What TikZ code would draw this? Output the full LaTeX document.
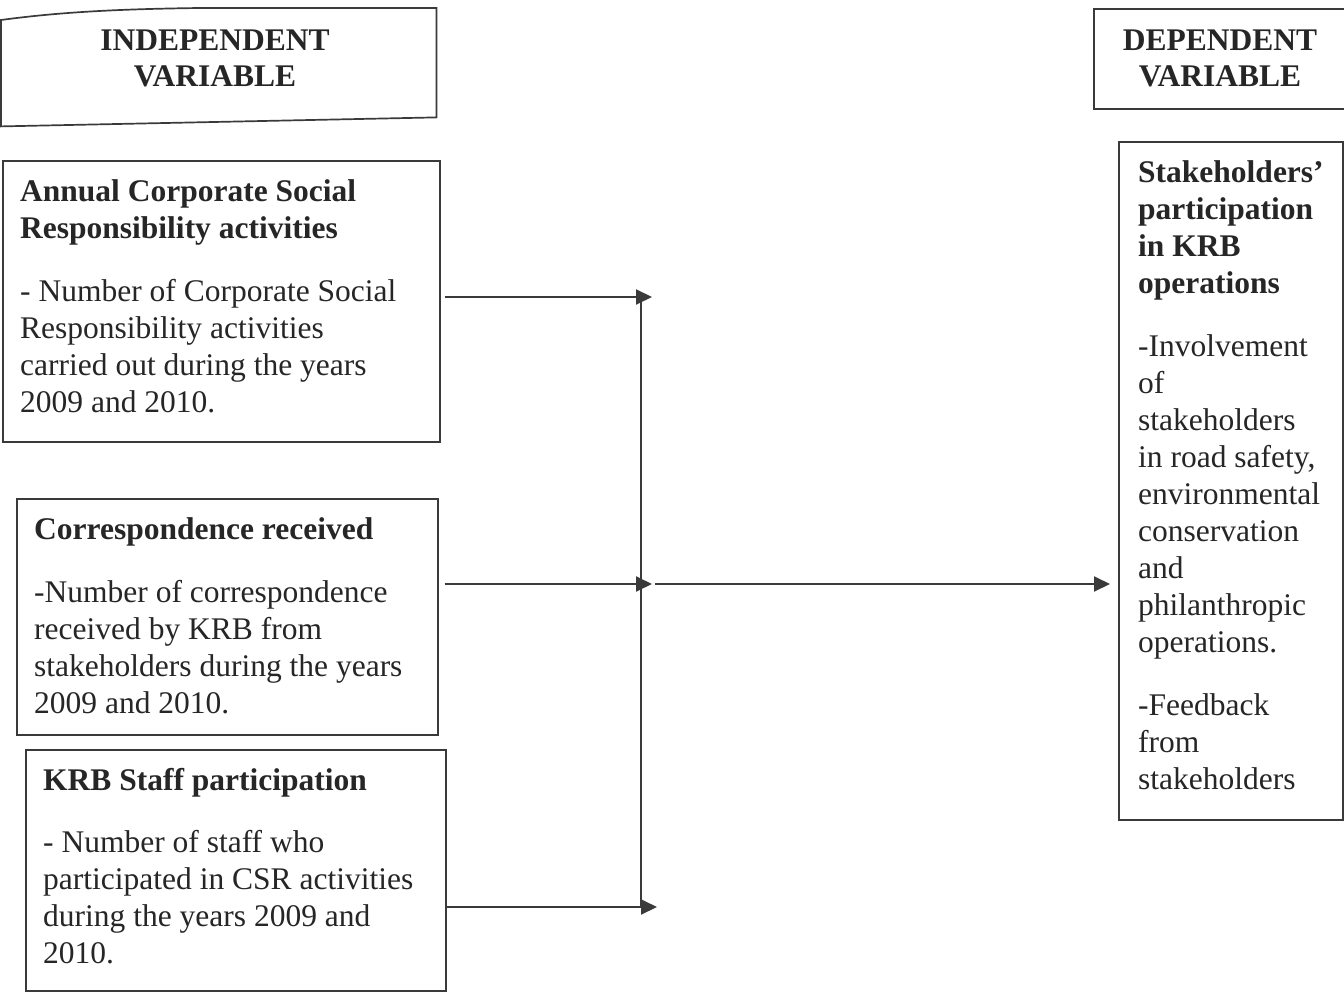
\documentclass[tikz,border=0pt]{standalone}
\usepackage{fontspec}
\setmainfont{Liberation Serif}
\usetikzlibrary{arrows.meta}
\definecolor{linec}{HTML}{3A3A3A}
\definecolor{textc}{HTML}{262626}
\begin{document}
\begin{tikzpicture}[x=1pt,y=-1pt,
 box/.style={draw=linec, line width=1.7pt, rectangle, inner sep=0pt, anchor=north west},
 txt/.style={anchor=north west, align=left, inner sep=0pt, font=\fontsize{31.5}{37}\selectfont, text=textc},
 hdr/.style={anchor=north, align=center, inner sep=0pt, font=\fontsize{31.5}{36}\selectfont\bfseries, text=textc},
 conn/.style={draw=linec, line width=1.9pt},
 arr/.style={conn, -{Triangle[length=16pt,width=15pt]}}]
\useasboundingbox (0,0) rectangle (1344,995);
\clip (0,0) rectangle (1344,995);
\fill[white] (0,0) rectangle (1344,995);

% headers
\node[inner sep=0pt, anchor=north west, minimum width=435pt, minimum height=112pt] (hIV) at (1,8) {};
\draw[draw=linec, line width=1.7pt] (hIV.north west) ++(0,12) .. controls (60,12) and (120,9) .. (200,8) -- (hIV.north east) -- ([yshift=3pt]hIV.south east) -- ([yshift=-6pt]hIV.south west) -- cycle;
\node[hdr] (hIVt) at (215,25) {\strut INDEPENDENT\\VARIABLE};
\node[box, minimum width=270pt, minimum height=100pt] (hDV) at (1093,8) {};
\node[hdr] (hDVt) at (1220,25) {\strut DEPENDENT\\VARIABLE};

% independent boxes
\node[box, minimum width=437pt, minimum height=281pt] (b1) at (2,160) {};
\node[txt] (t1) at (20,175) {\strut\textbf{Annual Corporate Social}\\\textbf{Responsibility activities}\\[26pt]- Number of Corporate Social\\Responsibility activities\\carried out during the years\\2009 and 2010.};

\node[box, minimum width=421pt, minimum height=236pt] (b2) at (16,498) {};
\node[txt] (t2) at (34,513) {\strut\textbf{Correspondence received}\\[26pt]-Number of correspondence\\received by KRB from\\stakeholders during the years\\2009 and 2010.};

\node[box, minimum width=420pt, minimum height=241pt] (b3) at (25,749) {};
\node[txt] (t3) at (43,764) {\strut\textbf{KRB Staff participation}\\[25pt]- Number of staff who\\participated in CSR activities\\during the years 2009 and\\2010.};

% dependent box
\node[box, minimum width=224pt, minimum height=678pt] (bD) at (1118,141) {};
\node[txt] (tD) at (1138,156) {\strut\textbf{Stakeholders’}\\\textbf{participation}\\\textbf{in KRB}\\\textbf{operations}\\[26pt]-Involvement\\of\\stakeholders\\in road safety,\\environmental\\conservation\\and\\philanthropic\\operations.\\[26pt]-Feedback\\from\\stakeholders};

% connectors
\coordinate (j1) at (641,297);
\coordinate (j2) at (641,584);
\coordinate (j3) at (641,907);
\draw[conn] (j1) -- (j3);
\draw[arr] ([xshift=4pt]b1.east |- j1) -- ([xshift=11pt]j1);
\draw[arr] ([xshift=6pt]b2.east |- j2) -- ([xshift=11pt]j2);
\draw[arr] (b3.east |- j3) -- ([xshift=16pt]j3);
\draw[arr] ([xshift=14pt]j2) -- ([xshift=-8pt]bD.west |- j2);
\end{tikzpicture}
\end{document}
